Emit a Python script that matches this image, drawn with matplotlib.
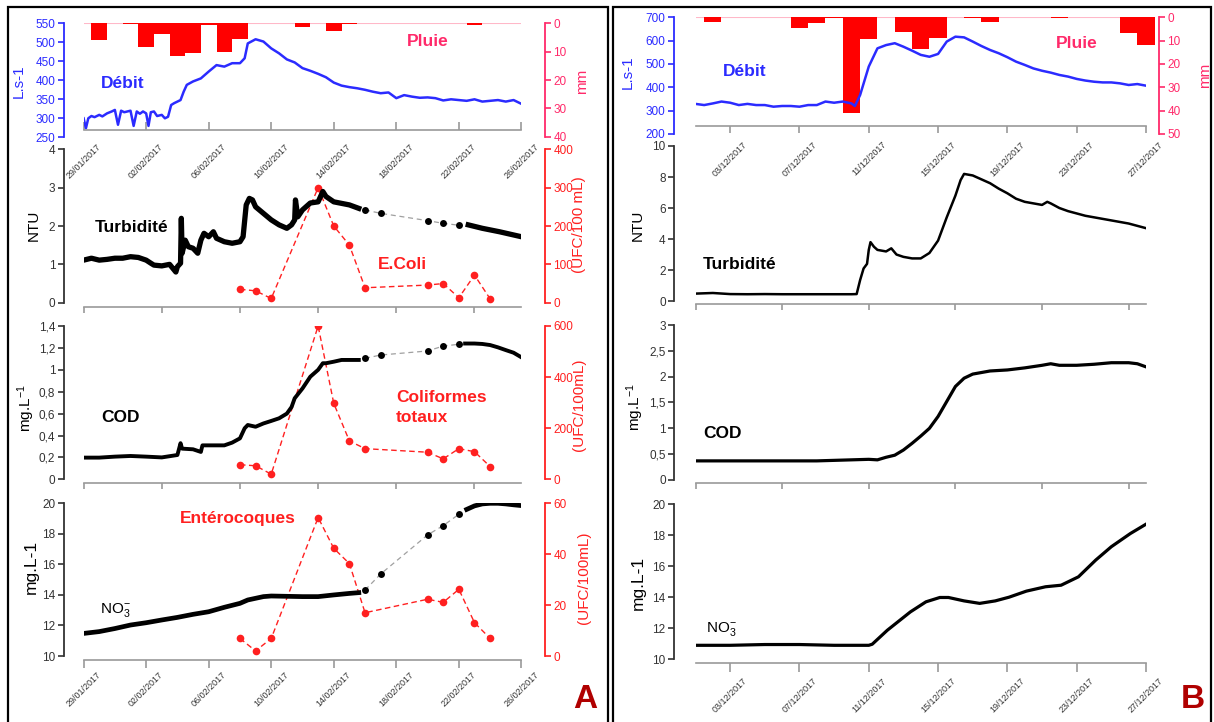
import numpy as np
import matplotlib.pyplot as plt
from matplotlib.patches import Rectangle

plt.rcParams['font.family'] = ['Liberation Sans', 'DejaVu Sans']
plt.rcParams['mathtext.fontset'] = 'custom'
plt.rcParams['mathtext.rm'] = 'Liberation Sans'
plt.rcParams['mathtext.it'] = 'Liberation Sans:italic'

W, H = 1214, 722
PT = 0.72  # points per pixel at dpi 100

BLUE = '#2b2bff'
PINK = '#ff2a6a'
RED = '#ff2020'
DARK = '#333333'
AXGREY = '#9a9a9a'

# ---------------- A : days since 29/01/2017 ----------------
a_tick_days = [0, 4, 8, 12, 16, 20, 24, 28]
a_tick_labels = ['29/01/2017', '02/02/2017', '06/02/2017', '10/02/2017',
                 '14/02/2017', '18/02/2017', '22/02/2017', '26/02/2017']

a_rain_days = [1, 3, 4, 5, 6, 7, 8, 9, 10, 14, 16, 17, 25]
a_rain_mm = [5.9, 0.2, 8.2, 3.8, 11.5, 10.6, 0.7, 10.2, 5.5, 1.2, 2.6, 0.2, 0.5]

a_flow_days = [0, 0.15, 0.3, 0.5, 0.7, 1.0, 1.2, 1.5, 1.8, 2.0, 2.2, 2.4, 2.6, 2.8,
               3.0, 3.2, 3.4, 3.6, 3.8, 4.0, 4.15, 4.3, 4.5, 4.7, 5.0, 5.2, 5.4,
               5.6, 5.8, 6.0, 6.2, 6.4, 6.6, 7.0, 7.5, 8.0, 8.5, 9.0, 9.5, 10.0,
               10.3, 10.5, 11.0, 11.5, 12, 12.5, 13, 13.5, 14, 14.5, 15, 15.5,
               16, 16.5, 17, 17.5, 18, 18.5, 19, 19.5, 20, 20.5, 21, 21.5, 22,
               22.5, 23, 23.5, 24, 24.5, 25, 25.5, 26, 26.5, 27, 27.5, 28]
a_flow = [300, 274, 300, 306, 303, 309, 305, 313, 318, 322, 283, 320, 316, 318,
          320, 280, 318, 312, 318, 313, 280, 316, 318, 306, 309, 300, 304,
          335, 340, 344, 348, 370, 388, 397, 405, 423, 440, 436, 445, 445,
          458, 497, 508, 502, 484, 471, 455, 447, 432, 425, 417, 408,
          394, 386, 382, 379, 375, 370, 366, 368, 353, 361, 357, 354, 355,
          353, 347, 350, 348, 346, 350, 344, 346, 348, 344, 348, 338]

a_ntu_days = [0, 0.5, 1, 1.5, 2, 2.5, 3, 3.5, 4, 4.3, 4.5, 5, 5.5, 5.9, 6.0, 6.2,
              6.25, 6.3, 6.5, 6.7, 7, 7.3, 7.5, 7.7, 8, 8.3, 8.5, 9, 9.5, 10,
              10.2, 10.4, 10.6, 10.8, 11, 11.5, 12, 12.5, 13, 13.3, 13.5, 13.55,
              13.7, 14, 14.5, 15, 15.3, 15.5, 16, 16.5, 17, 17.6, 21,
              24.6, 25.5, 26.6, 28]
a_ntu = [1.11, 1.16, 1.11, 1.13, 1.16, 1.16, 1.2, 1.18, 1.11, 1.03, 0.98, 0.96, 1.0,
         0.8, 0.94, 1.03, 2.2, 1.29, 1.63, 1.46, 1.42, 1.29, 1.63, 1.81, 1.72, 1.85,
         1.68, 1.59, 1.55, 1.59, 1.72, 2.55, 2.72, 2.68, 2.5, 2.33, 2.16, 2.03, 1.94,
         2.03, 2.16, 2.68, 2.24, 2.42, 2.6, 2.63, 2.9, 2.77, 2.63, 2.59, 2.55, 2.46,
         np.nan, 2.03, 1.94, 1.85, 1.72]

a_cod_days = [0, 1, 2, 3, 4, 5, 6, 6.2, 6.3, 7, 7.5, 7.6, 8, 9, 9.5, 10, 10.3, 10.5,
              11, 11.5, 12, 12.5, 13, 13.3, 13.5, 14, 14.5, 15, 15.3, 15.5, 16,
              16.5, 17, 17.6, 21, 24.4, 25, 25.5, 26, 26.5, 27, 27.5, 28]
a_cod = [0.198, 0.198, 0.207, 0.213, 0.207, 0.2, 0.222, 0.33, 0.28, 0.274, 0.25,
         0.31, 0.31, 0.31, 0.335, 0.374, 0.466, 0.496, 0.48, 0.51, 0.533, 0.557,
         0.6, 0.66, 0.74, 0.83, 0.937, 1.0, 1.06, 1.06, 1.074, 1.09, 1.09, 1.09,
         np.nan, 1.24, 1.24, 1.236, 1.226, 1.205, 1.18, 1.156, 1.114]

a_no3_days = [0, 1, 2, 3, 4, 5, 6, 7, 8, 9, 10, 10.5, 11, 11.5, 12, 13, 14, 15, 16,
              17, 17.6, 21, 24.5, 25, 25.5, 26, 26.5, 27, 27.5, 28]
a_no3 = [11.48, 11.6, 11.8, 12.03, 12.18, 12.36, 12.53, 12.73, 12.9, 13.19, 13.45,
         13.67, 13.78, 13.89, 13.93, 13.91, 13.89, 13.89, 14.0, 14.1, 14.15,
         np.nan, 19.6, 19.83, 19.96, 20.0, 20.0, 19.96, 19.9, 19.85]

a_lab_days = [18, 19, 22, 23, 24]
a_ntu_lab = [2.42, 2.33, 2.14, 2.07, 2.02]
a_cod_lab = [1.105, 1.135, 1.172, 1.217, 1.233]
a_no3_lab = [14.32, 15.37, 17.93, 18.54, 19.28]

a_bact_days = [10, 11, 12, 15, 16, 17, 18, 22, 23, 24, 25, 26]
a_ecoli = [35, 31, 11, 300, 200, 150, 39, 46, 50, 13, 72, 10]
a_colif = [57, 53, 20, 600, 297, 150, 120, 106, 80, 120, 108, 50]
a_entero = [6.9, 2.0, 6.9, 54.4, 42.3, 36.3, 17.0, 22.3, 21.1, 26.2, 13.1, 6.9]

# ---------------- B : days since 01/12/2017 ----------------
b_tick_days = [2, 6, 10, 14, 18, 22, 26]
b_tick_labels = ['03/12/2017', '07/12/2017', '11/12/2017', '15/12/2017',
                 '19/12/2017', '23/12/2017', '27/12/2017']

b_rain_days = [1, 6, 7, 8, 9, 10, 12, 13, 14, 16, 17, 21, 25, 26]
b_rain_mm = [1.9, 4.7, 2.3, 0.3, 40.9, 9.3, 6.4, 13.6, 8.7, 0.3, 1.9, 0.3, 6.9, 11.9]

b_flow_days = [0, 0.5, 1, 1.5, 2, 2.5, 3, 3.5, 4, 4.5, 5, 5.5, 6, 6.5, 7, 7.5, 8,
               8.5, 9, 9.2, 9.5, 10, 10.5, 11, 11.5, 12, 12.5, 13, 13.5, 14, 14.5,
               15, 15.5, 16, 16.5, 17, 17.5, 18, 18.5, 19, 19.5, 20, 20.5, 21,
               21.5, 22, 22.5, 23, 23.5, 24, 24.5, 25, 25.5, 26]
b_flow = [329, 324, 331, 339, 334, 324, 329, 324, 324, 317, 320, 320, 317, 324,
          324, 339, 334, 339, 331, 320, 367, 489, 567, 581, 589, 574, 557, 539,
          531, 543, 596, 617, 614, 596, 577, 560, 546, 529, 510, 496, 481, 471,
          463, 453, 446, 436, 429, 424, 421, 421, 417, 410, 414, 407]

b_ntu_days = [0, 1, 2, 3, 4, 5, 6, 7, 8, 9, 9.3, 9.5, 9.7, 9.9, 10, 10.1, 10.3,
              10.5, 11, 11.3, 11.6, 12, 12.5, 13, 13.5, 14, 14.5, 15, 15.3, 15.5,
              16, 16.5, 17, 17.5, 18, 18.5, 19, 19.5, 20, 20.3, 20.5, 21, 21.5,
              22, 22.5, 23, 23.5, 24, 24.5, 25, 25.5, 26]
b_ntu = [0.48, 0.52, 0.45, 0.44, 0.45, 0.44, 0.44, 0.44, 0.44, 0.44, 0.45, 1.35,
         2.1, 2.4, 3.3, 3.8, 3.5, 3.3, 3.2, 3.4, 3.0, 2.85, 2.75, 2.75, 3.1, 3.9,
         5.4, 6.8, 7.8, 8.2, 8.1, 7.85, 7.6, 7.25, 6.95, 6.6, 6.4, 6.3, 6.2, 6.4,
         6.3, 6.0, 5.8, 5.65, 5.5, 5.4, 5.3, 5.2, 5.1, 5.0, 4.85, 4.7]

b_cod_days = [0, 2, 4, 6, 7, 8, 9, 10, 10.5, 11, 11.5, 12, 12.5, 13, 13.5, 14,
              14.5, 15, 15.5, 16, 16.5, 17, 18, 19, 20, 20.5, 21, 22, 23, 24, 25,
              25.5, 26]
b_cod = [0.37, 0.37, 0.37, 0.37, 0.37, 0.38, 0.39, 0.4, 0.39, 0.44, 0.48, 0.58,
         0.71, 0.85, 1.0, 1.23, 1.52, 1.81, 1.97, 2.05, 2.08, 2.11, 2.13, 2.17,
         2.22, 2.25, 2.22, 2.22, 2.24, 2.27, 2.27, 2.25, 2.19]

b_no3_days = [0, 2, 4, 6, 8, 10, 10.2, 11.07, 12.4, 13.3, 14.1, 14.6, 15.5, 16.4,
              17.3, 18.1, 19.1, 20.2, 21.1, 22.1, 23.1, 24.0, 25.1, 26]
b_no3 = [10.9, 10.9, 10.95, 10.95, 10.9, 10.9, 10.97, 11.87, 13.05, 13.7, 13.98,
         13.98, 13.76, 13.6, 13.76, 14.0, 14.39, 14.67, 14.77, 15.31, 16.39,
         17.25, 18.1, 18.7]


def comma(vals):
    return [('%g' % v).replace('.', ',') for v in vals]


fig = plt.figure(figsize=(W / 100, H / 100), dpi=100)


def px_box(x0, x1, ytop, ybot):
    return [x0 / W, 1 - ybot / H, (x1 - x0) / W, (ybot - ytop) / H]


def ftext(x, y, s, **kw):
    kw.setdefault('ha', 'center')
    kw.setdefault('va', 'center')
    fig.text(x / W, 1 - y / H, s, **kw)


def base_axes(box, xlim, ylim, yticks, color=DARK, left_out=20, ylabels=None):
    ax = fig.add_axes(box)
    ax.set_xlim(xlim)
    ax.set_ylim(ylim)
    ax.patch.set_visible(False)
    ax.spines['top'].set_visible(False)
    ax.spines['right'].set_visible(False)
    ax.spines['left'].set_position(('outward', left_out * PT))
    ax.spines['left'].set_bounds(min(yticks), max(yticks))
    ax.spines['left'].set_color(color)
    ax.spines['left'].set_linewidth(1.3)
    ax.spines['bottom'].set_color(AXGREY)
    ax.spines['bottom'].set_linewidth(1.2)
    ax.set_yticks(yticks)
    ax.set_yticklabels(ylabels if ylabels else comma(yticks))
    ax.tick_params(axis='y', colors=color, labelsize=8.5, length=4, width=1.2, pad=2)
    ax.tick_params(axis='x', color=AXGREY, labelcolor=DARK, length=4.5, width=1.2,
                   labelbottom=False)
    return ax


def twin_axes(ax, ylim, yticks, color, right_out):
    tw = ax.twinx()
    tw.set_ylim(ylim)
    for s in ['left', 'top', 'bottom']:
        tw.spines[s].set_visible(False)
    tw.spines['right'].set_position(('outward', right_out * PT))
    tw.spines['right'].set_bounds(min(yticks), max(yticks))
    tw.spines['right'].set_color(color)
    tw.spines['right'].set_linewidth(1.3)
    tw.set_yticks(yticks)
    tw.tick_params(axis='y', colors=color, labelsize=8.5, length=4, width=1.2, pad=2)
    ax.set_zorder(tw.get_zorder() + 1)
    return tw


def date_labels(ax, days, labels, pad, direction='out', length=4.5):
    ax.set_xticks(days)
    ax.set_xticklabels(labels, rotation=45, fontsize=6.5, ha='center')
    ax.tick_params(axis='x', labelbottom=True, pad=pad, direction=direction,
                   length=length)


def bact(tw, days, vals):
    tw.plot(days, vals, color=RED, ls='--', lw=1, marker='o', ms=5.5,
            markeredgewidth=0, dashes=(4, 2.5))


def lab(ax, days, vals):
    ax.plot(days, vals, color='#a0a0a0', ls='--', lw=0.9, dashes=(4, 3))
    ax.plot(days, vals, 'o', color='black', ms=5, markeredgewidth=0)


# ======================= panel A =======================
AX0, AX1 = 83.6, 521.4
axl = (0, 28)

ax = base_axes(px_box(AX0, AX1, 23.3, 137.3), axl, (250, 550),
               list(range(250, 551, 50)), color=BLUE, left_out=20)
ax.spines['bottom'].set_position(('data', 269))
date_labels(ax, a_tick_days, a_tick_labels, pad=9, direction='in', length=6)
tw = twin_axes(ax, (40.2, 0), [0, 10, 20, 30, 40], PINK, 23.6)
tw.axhline(0, color='#ffb8c8', lw=1.5, zorder=1)
tw.bar(a_rain_days, a_rain_mm, width=1.0, color='#ff0000', zorder=2)
ax.plot(a_flow_days, a_flow, color=BLUE, lw=1.8)

ax = base_axes(px_box(AX0, AX1, 149.3, 306.7), axl, (-0.104, 4), [0, 1, 2, 3, 4])
tw = twin_axes(ax, (-10.4, 400), [0, 100, 200, 300, 400], RED, 23.6)
ax.plot(a_ntu_days, a_ntu, color='black', lw=3.8)
lab(ax, a_lab_days, a_ntu_lab)
bact(tw, a_bact_days, a_ecoli)

ax = base_axes(px_box(AX0, AX1, 326, 482.7), axl, (-0.031, 1.4),
               [0, 0.2, 0.4, 0.6, 0.8, 1, 1.2, 1.4])
tw = twin_axes(ax, (-13.3, 600), [0, 200, 400, 600], RED, 23.6)
ax.plot(a_cod_days, a_cod, color='black', lw=2.8)
lab(ax, a_lab_days, a_cod_lab)
bact(tw, a_bact_days, a_colif)

ax = base_axes(px_box(AX0, AX1, 503.3, 660), axl, (9.74, 20), [10, 12, 14, 16, 18, 20])
tw = twin_axes(ax, (-1.57, 60), [0, 20, 40, 60], RED, 23.6)
date_labels(ax, a_tick_days, a_tick_labels, pad=1.5, length=5.8)
ax.plot(a_no3_days, a_no3, color='black', lw=3.4)
lab(ax, a_lab_days, a_no3_lab)
bact(tw, a_bact_days, a_entero)

# ======================= panel B =======================
BX0, BX1 = 695.5, 1146
bxl = (0, 26)

ax = base_axes(px_box(BX0, BX1, 17.3, 134), bxl, (200, 700),
               list(range(200, 701, 100)), color=BLUE, left_out=21.5)
ax.spines['bottom'].set_position(('data', 234.3))
date_labels(ax, b_tick_days, b_tick_labels, pad=5, length=5)
tw = twin_axes(ax, (50, 0), [0, 10, 20, 30, 40, 50], PINK, 13)
tw.axhline(0, color='#ffb8c8', lw=1.5, zorder=1)
tw.bar(b_rain_days, b_rain_mm, width=1.0, color='#ff0000', zorder=2, clip_on=False)
ax.plot(b_flow_days, b_flow, color=BLUE, lw=1.8)

ax = base_axes(px_box(BX0, BX1, 146, 304), bxl, (-0.19, 10), [0, 2, 4, 6, 8, 10],
               left_out=21.5)
ax.plot(b_ntu_days, b_ntu, color='black', lw=1.8)

ax = base_axes(px_box(BX0, BX1, 325, 483.3), bxl, (-0.064, 3),
               [0, 0.5, 1, 1.5, 2, 2.5, 3], left_out=21.5)
ax.plot(b_cod_days, b_cod, color='black', lw=2.3)

ax = base_axes(px_box(BX0, BX1, 504, 662.7), bxl, (9.78, 20), [10, 12, 14, 16, 18, 20],
               left_out=21.5)
date_labels(ax, b_tick_days, b_tick_labels, pad=3.6, length=6.5)
ax.plot(b_no3_days, b_no3, color='black', lw=2.3)

# ======================= texts =======================
big = dict(fontsize=12.5, fontweight='bold')
ftext(123, 83, 'Débit', color=BLUE, **big)
ftext(428, 42, 'Pluie', color=PINK, **big)
ftext(132, 227, 'Turbidité', color='black', **big)
ftext(402, 265, 'E.Coli', color=RED, **big)
ftext(120, 418, 'COD', color='black', **big)
ftext(396, 397, 'Coliformes', color=RED, ha='left', **big)
ftext(396, 418, 'totaux', color=RED, ha='left', **big)
ftext(238, 519, 'Entérocoques', color=RED, **big)
ftext(100, 610, 'NO$_3^{-}$', color='black', fontsize=11, ha='left')

ftext(745, 72, 'Débit', color=BLUE, **big)
ftext(1077, 43, 'Pluie', color=PINK, **big)
ftext(740, 265, 'Turbidité', color='black', **big)
ftext(723, 434, 'COD', color='black', **big)
ftext(706, 629, 'NO$_3^{-}$', color='black', fontsize=11, ha='left')

ftext(585, 700, 'A', color='#b00000', fontsize=24, fontweight='bold')
ftext(1193, 699, 'B', color='#b00000', fontsize=24, fontweight='bold')

# axis titles
ylab = dict(rotation=90, fontsize=11)
ftext(19, 81, 'L.s-1', color=BLUE, **ylab)
ftext(582, 81, 'mm', color=PINK, **ylab)
ftext(34, 225, 'NTU', color='black', **ylab)
ftext(579, 225, '(UFC/100 mL)', color=RED, **ylab)
ftext(26, 408, 'mg.L$^{-1}$', color='black', **ylab)
ftext(579, 405, '(UFC/100mL)', color=RED, **ylab)
ftext(31, 567, 'mg.L-1', color='black', rotation=90, fontsize=12.5)
ftext(584, 578, '(UFC/100mL)', color=RED, **ylab)

ftext(628, 72, 'L.s-1', color=BLUE, **ylab)
ftext(1205, 75, 'mm', color=PINK, **ylab)
ftext(638, 225, 'NTU', color='black', **ylab)
ftext(635, 407, 'mg.L$^{-1}$', color='black', **ylab)
ftext(638, 583, 'mg.L-1', color='black', rotation=90, fontsize=12.5)

# panel frames
fig.add_artist(Rectangle((8 / W, -0.02), 600 / W, 1.02 - 7 / H, fill=False,
                         lw=1.6, edgecolor='black', transform=fig.transFigure))
fig.add_artist(Rectangle((613 / W, -0.02), 598 / W, 1.02 - 7 / H, fill=False,
                         lw=1.6, edgecolor='black', transform=fig.transFigure))

fig.savefig('out.png', dpi=100)
